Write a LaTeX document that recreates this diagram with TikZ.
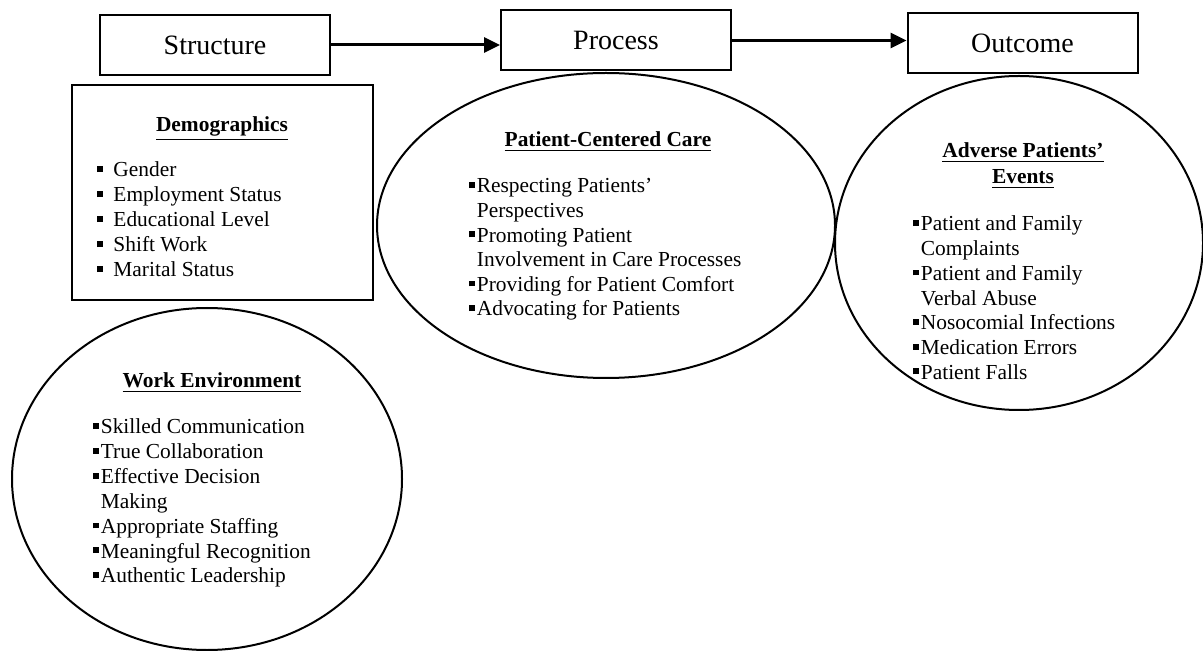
\documentclass[tikz,border=0pt]{standalone}
\usepackage{fontspec}
\setmainfont{Liberation Serif}
\usepackage{tikz}
\usetikzlibrary{arrows.meta, shapes.geometric, positioning}

\newcommand{\sqb}{\rule[0.23em]{0.27em}{0.27em}\kern0.08em}
\newcommand{\contind}{\hphantom{\sqb}}

\tikzset{
	stagebox/.style={draw, line width=1pt, minimum width=115pt, minimum height=30pt, inner sep=0pt, font=\fontsize{14}{16}\selectfont},
	frame/.style={draw, line width=1pt, inner sep=0pt},
	oval/.style={frame, ellipse},
	headtext/.style={anchor=base, inner sep=0pt, font=\fontsize{10.7}{12.4}\selectfont\bfseries},
	itemtext/.style={anchor=base west, inner sep=0pt, font=\fontsize{10.7}{12.4}\selectfont},
	flow/.style={line width=1.5pt, -{Triangle[length=8pt,width=7.5pt]}}
}

\begin{document}
\begin{tikzpicture}[x=0.5pt,y=-0.5pt]
			\useasboundingbox (0,0) rectangle (1203,651);
			
			% etapas
			\node[stagebox] (structure) at (215,45) {Structure};
			\node[stagebox] (process) at (616,40.5) {Process};
			\node[stagebox] (outcome) at (1022.5,43) {Outcome};
			
			% setas
			\draw[flow] (structure.east) -- (structure.east -| process.west);
			\draw[flow] (process.east) -- (process.east -| outcome.west);
			
			% demographics
			\node[frame, minimum width=150.5pt, minimum height=107.5pt] (demobox) at (222.5,192.5) {};
			\node[headtext] (demotitle) at (222,132) {\underline{Demographics}};
			\foreach \txt [count=\i from 0] in {Gender, Employment Status, Educational Level, Shift Work, Marital Status}
				\node[itemtext] (demo\i) at (97,{177+25*\i}) {\sqb\hspace{0.4em}\txt};
			
			% work environment
			\node[oval, minimum width=195pt, minimum height=171pt] (workenv) at (207,479) {};
			\node[headtext] (worktitle) at (212,388) {\underline{Work Environment}};
			\foreach \txt [count=\i from 0] in {\sqb Skilled Communication, \sqb True Collaboration, \sqb Effective Decision, \contind Making, \sqb Appropriate Staffing, \sqb Meaningful Recognition, \sqb Authentic Leadership}
				\node[itemtext] (work\i) at (93,{434+24.8*\i}) {\txt};
			
			% patient-centered care
			\node[oval, minimum width=229pt, minimum height=152.5pt] (pcc) at (606,225.5) {};
			\node[headtext] (pcctitle) at (608,147) {\underline{Patient-Centered Care}};
			\foreach \txt [count=\i from 0] in {\sqb Respecting Patients’, \contind Perspectives, \sqb Promoting Patient, \contind Involvement in Care Processes, \sqb Providing for Patient Comfort, \sqb Advocating for Patients}
				\node[itemtext] (pcc\i) at (469,{193+24.6*\i}) {\txt};
			
			% adverse events
			\node[oval, minimum width=184pt, minimum height=167pt] (adverse) at (1019,243) {};
			\node[headtext] (advtitle) at (1023,158) {\underline{Adverse Patients’}};
			\node[headtext] (advtitleb) at (1023,184) {\underline{Events}};
			\foreach \txt [count=\i from 0] in {\sqb Patient and Family, \contind Complaints, \sqb Patient and Family, \contind Verbal Abuse, \sqb Nosocomial Infections, \sqb Medication Errors, \sqb Patient Falls}
				\node[itemtext] (adv\i) at (913,{231+24.7*\i}) {\txt};
\end{tikzpicture}
\end{document}
